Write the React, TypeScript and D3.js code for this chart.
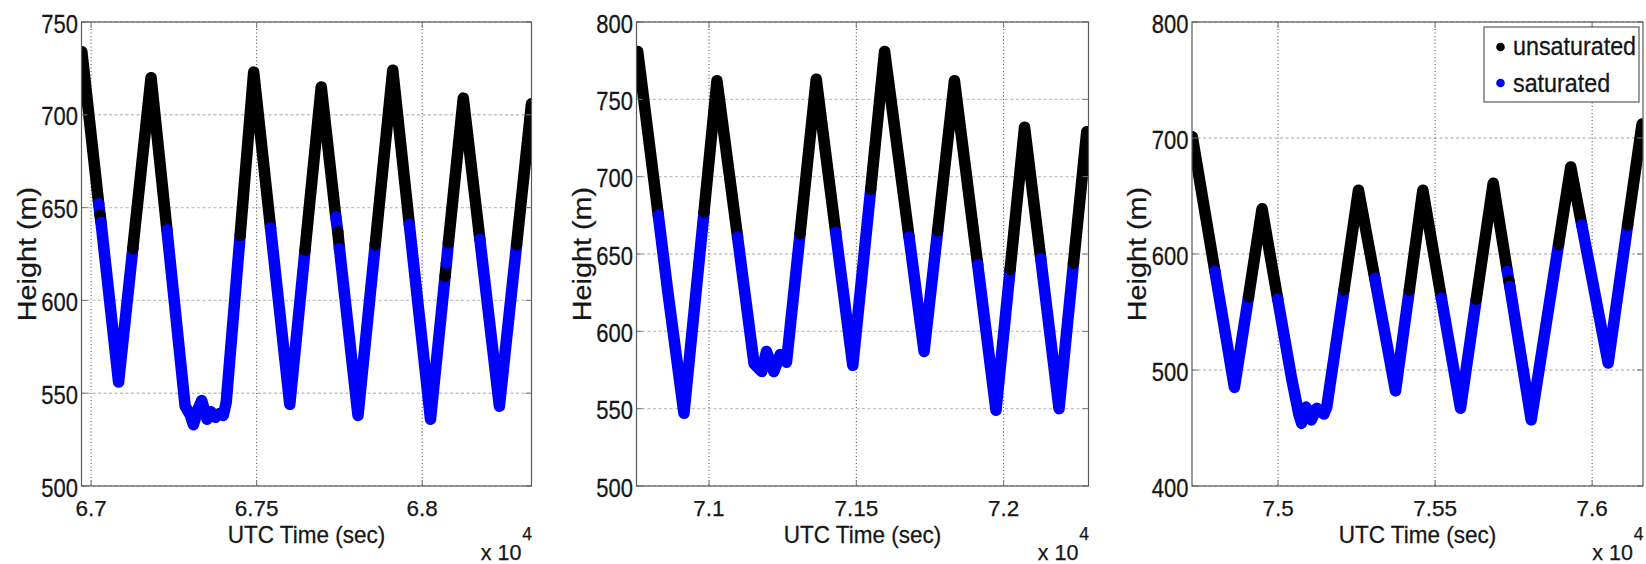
import React from 'react';
import * as d3 from 'd3';

const W = 1646;
const H = 564;

// ---- Segment 1: 6.7e4 – 6.83e4 s ----
const p1Time = [
  66972, 67023, 67027, 67030, 67083, 67126, 67181, 67229,
  67284, 67300, 67309, 67322, 67334, 67350, 67362, 67375, 67388, 67399, 67408,
  67450, 67491, 67542, 67600, 67646, 67695, 67739, 67745, 67750, 67806,
  67858, 67911, 67961, 68025, 68069, 68073, 68079, 68124, 68174, 68233, 68285, 68330,
];
const p1Height = [
  734, 652, 646, 642, 556, 628, 720, 638,
  543, 538, 533, 541, 546, 536, 540, 537, 539, 538, 545,
  635, 723, 639, 544, 627, 715, 645, 637, 628, 538,
  630, 724, 641, 536, 613, 620, 631, 709, 633, 543, 630, 706,
];
// 1 = saturated from this sample to the next one
const p1Sat = [
  0, 1, 0, 1, 1, 0, 0, 1,
  1, 1, 1, 1, 1, 1, 1, 1, 1, 1, 1,
  0, 0, 1, 1, 0, 0, 1, 0, 1, 1,
  0, 0, 1, 1, 0, 1, 0, 0, 1, 1, 0, 0,
];
const p1XDomain = [66971, 68330];
const p1YDomain = [500, 750];
const p1XTicks = [67000, 67500, 68000];
const p1XTickLabels = ['6.7', '6.75', '6.8'];
const p1YTicks = [500, 550, 600, 650, 700, 750];

// ---- Segment 2: 7.08e4 – 7.23e4 s ----
const p2Time = [
  70758, 70828, 70860, 70915, 70983, 71027, 71097,
  71153, 71179, 71195, 71220, 71242, 71263,
  71309, 71364, 71430, 71488, 71549, 71596, 71679, 71730,
  71776, 71833, 71912, 71974, 72022, 72071, 72126, 72188, 72237, 72282,
];
const p2Height = [
  781, 675, 626, 547, 677, 762, 661,
  579, 574, 587, 574, 585, 580,
  663, 763, 664, 578, 692, 781, 661, 587,
  665, 762, 643, 549, 640, 732, 647, 550, 644, 729,
];
const p2Sat = [
  0, 1, 1, 1, 0, 0, 1,
  1, 1, 1, 1, 1, 1,
  0, 0, 1, 1, 0, 0, 1, 1,
  0, 0, 1, 1, 0, 0, 1, 1, 0, 0,
];
const p2XDomain = [70754, 72288];
const p2YDomain = [500, 800];
const p2XTicks = [71000, 71500, 72000];
const p2XTickLabels = ['7.1', '7.15', '7.2'];
const p2YTicks = [500, 550, 600, 650, 700, 750, 800];

// ---- Segment 3: 7.47e4 – 7.62e4 s ----
const p3Time = [
  74727, 74799, 74861, 74906, 74949, 74999,
  75043, 75066, 75075, 75089, 75106, 75123, 75146, 75155,
  75210, 75256, 75308, 75374, 75418, 75461, 75520, 75581,
  75631, 75685, 75730, 75735, 75738, 75806, 75893, 75932, 75967, 76051, 76113, 76159,
];
const p3Height = [
  701, 585, 485, 563, 639, 561,
  493, 462, 454, 468, 457, 467, 462, 468,
  569, 655, 579, 482, 569, 655, 562, 467,
  561, 661, 585, 577, 572, 457, 608, 675, 625, 506, 625, 712,
];
const p3Sat = [
  0, 1, 1, 0, 0, 1,
  1, 1, 1, 1, 1, 1, 1, 1,
  0, 0, 1, 1, 0, 0, 1, 1,
  0, 0, 1, 0, 1, 1, 0, 0, 1, 1, 0, 0,
];
const p3XDomain = [74726, 76162];
const p3YDomain = [400, 800];
const p3XTicks = [75000, 75500, 76000];
const p3XTickLabels = ['7.5', '7.55', '7.6'];
const p3YTicks = [400, 500, 600, 700, 800];

const legendLabels = ['unsaturated', 'saturated'];
const stateColors = ['#000000', '#0000ff'];

const xLabel = 'UTC Time (sec)';
const yLabel = 'Height (m)';

const panels = [
  { id: 'a', time: p1Time, height: p1Height, sat: p1Sat, xDomain: p1XDomain, yDomain: p1YDomain,
    xTicks: p1XTicks, xTickLabels: p1XTickLabels, yTicks: p1YTicks, left: 81.5, right: 531.5, legend: false },
  { id: 'b', time: p2Time, height: p2Height, sat: p2Sat, xDomain: p2XDomain, yDomain: p2YDomain,
    xTicks: p2XTicks, xTickLabels: p2XTickLabels, yTicks: p2YTicks, left: 636.5, right: 1088.5, legend: false },
  { id: 'c', time: p3Time, height: p3Height, sat: p3Sat, xDomain: p3XDomain, yDomain: p3YDomain,
    xTicks: p3XTicks, xTickLabels: p3XTickLabels, yTicks: p3YTicks, left: 1192, right: 1643, legend: true },
];

const TOP = 22;
const BOTTOM = 486;
const FONT = "'Liberation Sans', Arial, Helvetica, sans-serif";
const TEXT = '#161616';

function SText({ x, y, size, anchor = 'start', rotate = 0, stretch = 1, children }: any) {
  const tf = `translate(${x},${y}) scale(1,${stretch})` + (rotate ? ` rotate(${rotate})` : '');
  return (
    <g transform={tf}>
      <text fontSize={size} textAnchor={anchor} fontFamily={FONT} fill={TEXT}
        stroke={TEXT} strokeWidth={0.25}>{children}</text>
    </g>
  );
}

function Panel({ p }: any) {
  const x = d3.scaleLinear().domain(p.xDomain).range([p.left, p.right]);
  const y = d3.scaleLinear().domain(p.yDomain).range([BOTTOM, TOP]);
  const line = d3.line<[number, number]>().x((d) => x(d[0])).y((d) => y(d[1]));

  // group consecutive segments of equal state into runs
  const runs: { state: number; pts: [number, number][] }[] = [];
  for (let i = 0; i < p.time.length - 1; i++) {
    const s = p.sat[i];
    const last = runs[runs.length - 1];
    if (last && last.state === s) {
      last.pts.push([p.time[i + 1], p.height[i + 1]]);
    } else {
      runs.push({ state: s, pts: [[p.time[i], p.height[i]], [p.time[i + 1], p.height[i + 1]]] });
    }
  }

  const clipId = `clip-${p.id}`;
  const midX = (p.left + p.right) / 2;
  const midY = (TOP + BOTTOM) / 2;

  return (
    <g>
      <defs>
        <clipPath id={clipId}>
          <rect x={p.left} y={TOP} width={p.right - p.left} height={BOTTOM - TOP} />
        </clipPath>
      </defs>
      <rect x={p.left} y={TOP} width={p.right - p.left} height={BOTTOM - TOP} fill="#fff" />
      {/* grid */}
      {p.yTicks.map((t: number) => (
        <line key={'gy' + t} x1={p.left} x2={p.right} y1={y(t)} y2={y(t)}
          stroke="#c2c2c2" strokeWidth={1.4} strokeDasharray="3,2.5" />
      ))}
      {p.xTicks.map((t: number) => (
        <line key={'gx' + t} x1={x(t)} x2={x(t)} y1={TOP} y2={BOTTOM}
          stroke="#444" strokeWidth={1} strokeDasharray="1,2.5" />
      ))}
      {/* data */}
      <g clipPath={`url(#${clipId})`}>
        {runs.map((r, i) => (
          <path key={i} d={line(r.pts) || ''} fill="none" stroke={stateColors[r.state]}
            strokeWidth={11.5} strokeLinecap="round" strokeLinejoin="round" />
        ))}
      </g>
      {/* ticks */}
      {p.yTicks.map((t: number) => (
        <g key={'ty' + t}>
          <line x1={p.left} x2={p.left + 6} y1={y(t)} y2={y(t)} stroke="#777" strokeWidth={1} />
          <line x1={p.right} x2={p.right - 6} y1={y(t)} y2={y(t)} stroke="#777" strokeWidth={1} />
        </g>
      ))}
      {p.xTicks.map((t: number) => (
        <g key={'tx' + t}>
          <line x1={x(t)} x2={x(t)} y1={BOTTOM} y2={BOTTOM - 6} stroke="#777" strokeWidth={1} />
          <line x1={x(t)} x2={x(t)} y1={TOP} y2={TOP + 6} stroke="#777" strokeWidth={1} />
        </g>
      ))}
      <rect x={p.left} y={TOP} width={p.right - p.left} height={BOTTOM - TOP}
        fill="none" stroke="#5a5a5a" strokeWidth={1.2} />
      {/* tick labels */}
      {p.yTicks.map((t: number) => (
        <SText key={'ly' + t} x={p.left - 3.5} y={y(t) + 10.5} size={22} stretch={1.15} anchor="end">{String(t)}</SText>
      ))}
      {p.xTicks.map((t: number, i: number) => (
        <SText key={'lx' + t} x={x(t)} y={516} size={22.5} anchor="middle">{p.xTickLabels[i]}</SText>
      ))}
      {/* axis labels */}
      <SText x={midX} y={543} size={22.5} stretch={1.08} anchor="middle">{xLabel}</SText>
      <SText x={p.left - 46} y={midY} size={25.5} stretch={1.13} anchor="middle" rotate={-90}>{yLabel}</SText>
      {/* exponent */}
      <SText x={p.right - 10} y={560} size={21.5} anchor="end">x 10</SText>
      <SText x={p.right + 0.5} y={540} size={17.5} anchor="end">4</SText>
      {p.legend && (
        <g>
          <rect x={1484} y={27} width={155} height={75} fill="#fff" stroke="#5a5a5a" strokeWidth={1.2} />
          {legendLabels.map((lab, i) => (
            <g key={lab}>
              <circle cx={1500.5} cy={47 + i * 36} r={4.3} fill={stateColors[i]} />
              <SText x={1513} y={55 + i * 37} size={23.3} stretch={1.13} anchor="start">{lab}</SText>
            </g>
          ))}
        </g>
      )}
    </g>
  );
}

export default function App() {
  return (
    <svg width={W} height={H} viewBox={`0 0 ${W} ${H}`}
      style={{ position: 'absolute', left: 0, top: 0, background: '#fff' }}>
      <rect x={0} y={0} width={W} height={H} fill="#fff" />
      {panels.map((p) => <Panel key={p.id} p={p} />)}
    </svg>
  );
}
